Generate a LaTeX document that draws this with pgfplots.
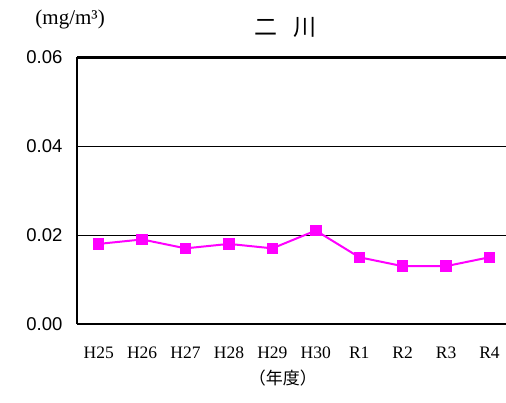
\documentclass[border=0pt]{standalone}
\usepackage{pgfplots}
\pgfplotsset{compat=1.18}
\usepackage{fontspec}
\setmainfont{Liberation Serif}
\newfontfamily\numfont{Liberation Sans}
\newfontfamily\cjk{Noto Sans CJK JP}
\definecolor{pink}{RGB}{255,0,255}
\begin{document}
\begin{tikzpicture}
\useasboundingbox (0,0) rectangle (506pt,402pt);
\begin{axis}[
    at={(77pt,78pt)}, anchor=south west,
    scale only axis,
    width=429pt, height=267pt,
    xmin=-0.5, xmax=9.38,
    ymin=0, ymax=0.06,
    axis lines=left,
    axis line style={-, line width=2.5pt},
    xtick={0,...,9},
    xticklabels={H25,H26,H27,H28,H29,H30,R1,R2,R3,R4},
    ytick={0,0.02,0.04},
    extra y ticks={0.06},
    extra y tick style={grid style={line width=3pt, black}},
    ymajorgrids,
    grid style={line width=0.8pt, black},
    major tick length=0pt,
    scaled y ticks=false,
    /pgf/number format/assume math mode=true,
    yticklabel={\pgfmathprintnumber[fixed, fixed zerofill, precision=2]{\tick}},
    yticklabel style={font=\numfont\fontsize{18.5}{20}\selectfont, xshift=-11pt},
    xticklabel style={font=\fontsize{17.5}{19}\selectfont, yshift=-19pt},
    title={\cjk\fontsize{23}{25}\selectfont 二\hspace{16pt}川},
    title style={at={(axis description cs:0.485,1.09)}, anchor=center},
    xlabel={\cjk\fontsize{17}{19}\selectfont （年度）},
    xlabel style={at={(axis description cs:0.48,-0.202)}, anchor=center},
    ylabel={\fontsize{21}{23}\selectfont (mg/m³)},
    ylabel style={at={(axis description cs:-0.016,1.142)}, anchor=center, rotate=-90},
    clip=false,
    ]
\addplot[pink, line width=2pt, mark=square*, mark size=4.7pt] coordinates {
    (0,0.018) (1,0.019) (2,0.017) (3,0.018) (4,0.017)
    (5,0.021) (6,0.015) (7,0.013) (8,0.013) (9,0.015)
};
\end{axis}
\end{tikzpicture}
\end{document}
